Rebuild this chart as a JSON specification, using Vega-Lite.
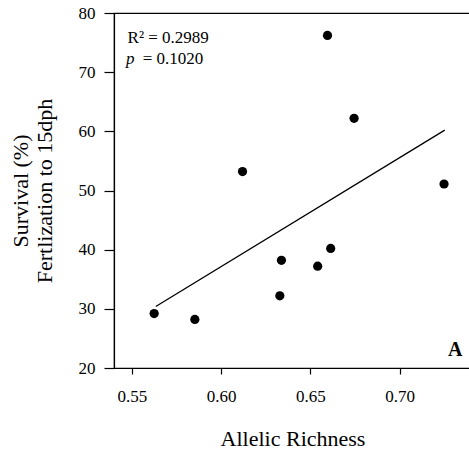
{
  "$schema": "https://vega.github.io/schema/vega-lite/v6.json",
  "autosize": "none",
  "padding": {"left": 114, "top": 13, "right": 0, "bottom": 87},
  "width": 357,
  "height": 355,
  "background": "white",
  "config": {
    "font": "Liberation Serif",
    "view": {"stroke": "black", "strokeWidth": 1.2},
    "axis": {"grid": false, "domainColor": "black", "tickColor": "black", "labelColor": "black", "titleColor": "black", "labelFont": "Liberation Serif", "titleFont": "Liberation Serif", "titleFontWeight": "normal", "domainWidth": 1.2, "tickWidth": 1.2, "labelFontSize": 17, "titleFontSize": 22}
  },
  "datasets": {
    "points": [
      {"richness": 0.5625, "survival": 29.2},
      {"richness": 0.5853, "survival": 28.2},
      {"richness": 0.6120, "survival": 53.2},
      {"richness": 0.6329, "survival": 32.2},
      {"richness": 0.6338, "survival": 38.2},
      {"richness": 0.6541, "survival": 37.2},
      {"richness": 0.6596, "survival": 76.2},
      {"richness": 0.6614, "survival": 40.2},
      {"richness": 0.6745, "survival": 62.2},
      {"richness": 0.7249, "survival": 51.1}
    ],
    "fit": [
      {"richness": 0.5634, "survival": 30.4},
      {"richness": 0.7253, "survival": 60.2}
    ],
    "one": [{}]
  },
  "layer": [
    {
      "data": {"name": "fit"},
      "mark": {"type": "line", "color": "black", "strokeWidth": 1.3},
      "encoding": {
        "x": {"field": "richness", "type": "quantitative", "scale": {"domain": [0.54, 0.74], "nice": false, "zero": false},
          "axis": {"title": "Allelic Richness", "values": [0.55, 0.6, 0.65, 0.7], "format": ".2f", "labelFont": "Liberation Serif", "labelFontSize": 17, "tickSize": 6, "labelPadding": 27, "labelBaseline": "alphabetic", "titleFontSize": 22, "titleY": 77, "titleBaseline": "alphabetic", "labelFlush": false}},
        "y": {"field": "survival", "type": "quantitative", "scale": {"domain": [20, 80], "nice": false, "zero": false},
          "axis": {"title": ["Survival (%)", "Fertlization to 15dph"], "values": [20, 30, 40, 50, 60, 70, 80], "labelFont": "Liberation Serif", "labelFontSize": 17, "tickSize": 10, "labelPadding": 9, "titleFontSize": 22, "titleLineHeight": 24, "titleX": -87, "titleY": 177.5, "titleAngle": -90, "titleAlign": "center", "titleBaseline": "alphabetic", "labelFlush": false}}
      }
    },
    {
      "data": {"name": "points"},
      "mark": {"type": "circle", "color": "black", "opacity": 1, "size": 85},
      "encoding": {
        "x": {"field": "richness", "type": "quantitative", "scale": {"domain": [0.54, 0.74], "nice": false, "zero": false},
          "axis": {"title": "Allelic Richness", "values": [0.55, 0.6, 0.65, 0.7], "format": ".2f", "labelFont": "Liberation Serif", "labelFontSize": 17, "tickSize": 6, "labelPadding": 27, "labelBaseline": "alphabetic", "titleFontSize": 22, "titleY": 77, "titleBaseline": "alphabetic", "labelFlush": false}},
        "y": {"field": "survival", "type": "quantitative", "scale": {"domain": [20, 80], "nice": false, "zero": false},
          "axis": {"title": ["Survival (%)", "Fertlization to 15dph"], "values": [20, 30, 40, 50, 60, 70, 80], "labelFont": "Liberation Serif", "labelFontSize": 17, "tickSize": 10, "labelPadding": 9, "titleFontSize": 22, "titleLineHeight": 24, "titleX": -87, "titleY": 177.5, "titleAngle": -90, "titleAlign": "center", "titleBaseline": "alphabetic", "labelFlush": false}}
      }
    },
    {
      "data": {"name": "one"},
      "mark": {"type": "text", "text": "R² = 0.2989", "fontSize": 17, "align": "left", "baseline": "alphabetic", "color": "black"},
      "encoding": {"x": {"datum": 0.5476}, "y": {"datum": 74.85}}
    },
    {
      "data": {"name": "one"},
      "mark": {"type": "text", "text": "p", "fontSize": 17, "fontStyle": "italic", "align": "left", "baseline": "alphabetic", "color": "black"},
      "encoding": {"x": {"datum": 0.5467}, "y": {"datum": 71.36}}
    },
    {
      "data": {"name": "one"},
      "mark": {"type": "text", "text": "= 0.1020", "fontSize": 17, "align": "left", "baseline": "alphabetic", "color": "black"},
      "encoding": {"x": {"datum": 0.5561}, "y": {"datum": 71.36}}
    },
    {
      "data": {"name": "one"},
      "mark": {"type": "text", "text": "A", "fontSize": 20, "fontWeight": "bold", "align": "right", "baseline": "alphabetic", "color": "black"},
      "encoding": {"x": {"datum": 0.7352}, "y": {"datum": 22.07}}
    }
  ]
}
